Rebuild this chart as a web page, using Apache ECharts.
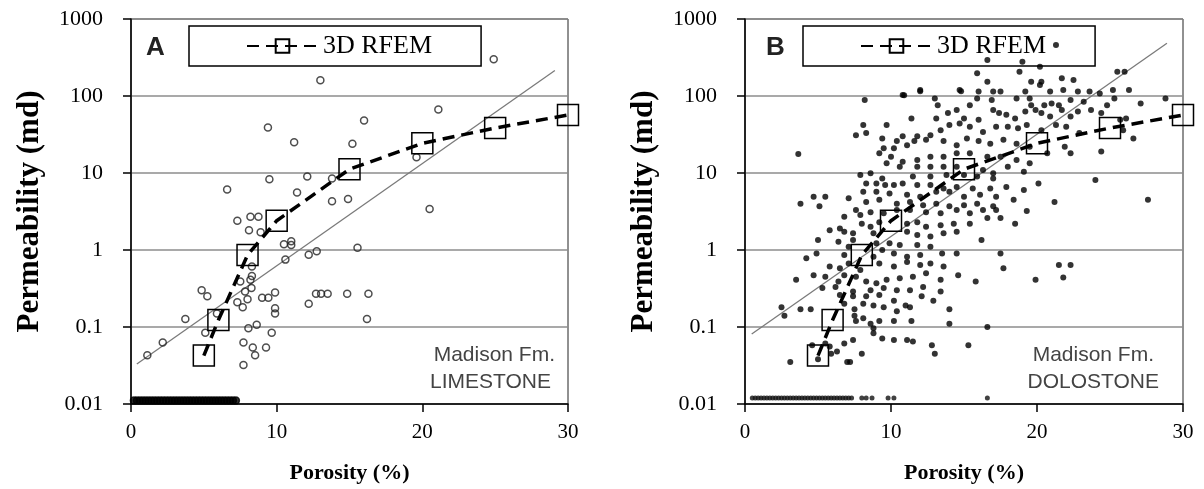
<!DOCTYPE html>
<html>
<head>
<meta charset="utf-8">
<script src="https://cdn.jsdelivr.net/npm/echarts@6/dist/echarts.min.js"></script>
<style>
  html, body { margin: 0; padding: 0; background: #fff; }
  #chart { width: 1204px; height: 489px; }
</style>
</head>
<body>
<div id="chart"></div>
<script>
// 3D RFEM model curve (same on both panels)
const rfemPorosity = [5, 6, 8, 10, 15, 20, 25, 30];
const rfemPerm = [0.0425, 0.123, 0.86, 2.4, 11.2, 24.3, 38.4, 56.6];

// regression lines [porosity, permeability] end points
const limestoneFit = [[0.4, 0.033], [29.1, 214]];
const dolostoneFit = [[0.46, 0.081], [28.9, 483]];

// measured samples, panel A
const limestonePoints = [
  [24.9, 300], [13.0, 160], [21.1, 67], [16.0, 48], [9.4, 39], [11.2, 25], [15.2, 24], [19.6, 16],
  [9.5, 8.3], [12.1, 9], [13.8, 8.5], [6.6, 6.1], [11.4, 5.6], [13.8, 4.3], [14.9, 4.6], [20.5, 3.4],
  [7.3, 2.4], [8.2, 2.7], [8.75, 2.7], [8.1, 1.8], [8.9, 1.7], [10.5, 1.19], [11.0, 1.3], [11.0, 1.16],
  [12.2, 0.87], [12.75, 0.96], [15.55, 1.07], [10.6, 0.75], [8.3, 0.61], [8.3, 0.46], [8.2, 0.41], [7.5, 0.39],
  [4.85, 0.30], [5.24, 0.25], [8.27, 0.32], [7.83, 0.29], [8.0, 0.23], [7.3, 0.21], [7.67, 0.18],
  [9.0, 0.24], [9.43, 0.24], [9.89, 0.28], [9.89, 0.175], [9.89, 0.15], [12.2, 0.2],
  [12.7, 0.27], [13.05, 0.27], [13.5, 0.27], [14.84, 0.27], [16.3, 0.27], [16.2, 0.127], [3.73, 0.127],
  [2.18, 0.063], [1.12, 0.043], [5.1, 0.084], [8.06, 0.096], [8.63, 0.107], [9.66, 0.084], [7.72, 0.063],
  [8.36, 0.054], [8.52, 0.043], [9.27, 0.054], [7.72, 0.032], [5.9, 0.15]
];
// samples sitting on the 0.01 floor, panel A
const limestoneFloorPorosity = [0.2, 0.4, 0.6, 0.8, 1.0, 1.2, 1.4, 1.6, 1.8, 2.0, 2.2, 2.4, 2.6, 2.8, 3.0,
  3.2, 3.4, 3.6, 3.8, 4.0, 4.2, 4.4, 4.6, 4.8, 5.0, 5.2, 5.4, 5.6, 5.8, 6.0, 6.2, 6.4, 6.6, 6.8, 7.0, 7.2];
const limestoneFloorPerm = 0.0111;

// measured samples, panel B
const dolostonePoints = [
  [21.3, 459], [16.6, 294], [19.0, 279], [20.2, 240], [15.9, 197], [16.6, 153], [18.8, 207], [19.6, 153],
  [20.3, 153], [21.7, 170], [22.5, 161], [25.5, 207], [26.0, 207], [10.9, 102], [12.0, 115], [14.8, 115],
  [12.0, 120], [10.8, 103], [14.7, 120], [16.0, 114], [17.0, 114], [17.5, 114], [18.6, 93], [19.2, 114],
  [20.2, 139], [20.9, 114], [21.8, 120], [22.8, 114], [23.6, 114], [24.3, 108], [25.2, 120], [26.3, 120], [28.8, 93],
  [8.2, 89], [13.0, 93], [13.2, 76], [15.4, 76], [15.9, 93], [16.9, 89], [19.5, 93], [19.6, 76], [20.5, 76],
  [21.0, 80], [21.5, 76], [22.3, 89], [23.2, 84], [24.8, 76], [25.3, 93], [27.1, 80],
  [11.4, 51], [13.1, 51], [13.9, 60], [14.5, 66], [15.0, 51], [16.0, 49], [17.0, 66], [17.4, 60], [17.9, 57],
  [18.5, 51], [19.2, 63], [19.9, 66], [20.3, 60], [20.9, 54], [21.7, 66], [22.3, 54], [22.8, 63], [23.7, 66],
  [24.4, 60], [25.7, 49], [26.1, 51],
  [8.1, 42], [7.6, 31], [8.3, 33], [9.7, 42], [10.8, 30], [11.8, 30], [12.7, 31], [13.4, 36], [14.0, 42],
  [14.7, 44], [15.4, 40], [16.3, 34], [17.2, 40], [18.0, 40], [18.7, 38], [19.3, 42], [20.3, 36], [21.3, 42],
  [22.0, 40], [22.9, 33], [25.9, 36], [26.6, 28],
  [9.4, 28], [10.4, 26], [11.1, 23], [11.6, 26], [12.4, 27], [13.6, 26], [14.5, 23], [15.2, 28], [16.0, 26],
  [16.8, 24], [17.7, 27], [18.6, 24], [19.5, 22], [21.9, 22], [24.4, 19], [9.5, 21], [10.2, 21],
  [3.65, 17.7], [9.2, 18], [10.0, 16.3], [10.8, 14], [11.8, 14.8], [12.7, 16.3], [13.6, 16.3], [14.5, 18],
  [15.4, 18], [16.6, 16.3], [17.5, 16.3], [18.6, 14.8], [19.5, 13.4], [20.7, 18], [22.3, 18],
  [9.7, 13.4], [10.6, 12.1], [11.8, 12.1], [12.7, 12.1], [13.6, 12.1], [14.5, 12.1], [16.3, 10.9], [17.0, 9.9],
  [18.0, 12.1], [19.1, 10.4], [8.6, 9.9], [9.4, 8.5], [11.5, 9.0], [12.7, 9.0], [13.8, 9.4], [15.0, 9.4],
  [15.9, 9.0], [17.0, 8.5], [24.0, 8.1],
  [7.9, 9.4], [8.3, 7.3], [9.0, 7.3], [9.6, 7.0], [10.2, 7.0], [10.8, 7.3], [11.8, 7.0], [12.7, 7.0], [13.6, 6.3],
  [14.5, 6.6], [15.6, 6.3], [16.8, 6.3], [17.9, 6.6], [19.1, 6.0], [20.1, 7.3], [8.1, 5.7], [9.0, 5.7], [9.9, 5.4],
  [11.1, 5.2], [12.0, 4.9], [13.1, 5.7], [14.0, 5.7], [15.0, 4.9], [16.1, 5.2], [17.2, 4.9],
  [3.8, 4.0], [4.7, 4.9], [5.5, 4.9], [5.1, 3.7], [7.1, 4.7], [8.3, 4.2], [9.2, 4.5], [10.4, 4.0], [11.3, 4.2],
  [12.2, 3.8], [13.1, 4.0], [14.0, 3.7], [15.0, 3.8], [15.9, 4.0], [17.0, 3.7], [18.4, 4.5], [21.2, 4.2], [27.6, 4.5],
  [7.6, 3.3], [8.6, 3.1], [9.5, 3.0], [10.4, 3.3], [11.3, 3.3], [12.4, 3.1], [13.4, 3.0], [14.5, 3.3], [15.4, 3.0],
  [16.3, 3.3], [17.2, 3.3], [19.3, 3.2],
  [6.8, 2.7], [7.9, 2.85], [8.0, 2.2], [8.6, 2.0], [9.2, 2.3], [11.1, 2.2], [11.8, 2.3], [12.4, 2.0], [13.4, 2.1],
  [14.3, 2.2], [15.4, 2.2], [16.6, 2.6], [17.5, 2.6], [18.5, 2.2], [5.8, 1.8], [6.5, 1.9], [6.8, 1.73], [7.4, 1.65],
  [8.8, 1.65], [11.1, 1.73], [11.8, 1.57], [12.7, 1.5], [13.6, 1.65], [14.5, 1.73], [16.2, 1.35],
  [5.0, 1.35], [6.4, 1.28], [7.1, 1.1], [7.4, 1.35], [9.0, 1.22], [9.9, 1.22], [10.6, 1.16], [11.8, 1.16], [12.7, 1.1],
  [13.5, 0.9], [9.4, 1.0], [10.2, 0.9], [11.1, 0.82], [12.0, 0.86], [14.5, 0.9], [17.5, 0.9],
  [4.2, 0.78], [4.9, 0.9], [6.8, 0.86], [7.1, 0.67], [8.8, 0.82], [9.2, 0.67], [10.2, 0.61], [11.1, 0.70], [12.0, 0.64],
  [12.7, 0.67], [13.6, 0.61], [21.5, 0.64], [22.3, 0.64], [5.8, 0.61], [6.5, 0.58], [7.9, 0.55],
  [3.5, 0.41], [4.7, 0.47], [5.5, 0.45], [6.4, 0.39], [6.8, 0.47], [7.6, 0.45], [8.3, 0.39], [9.0, 0.37], [9.7, 0.41],
  [10.6, 0.43], [11.5, 0.45], [12.4, 0.50], [13.4, 0.41], [14.6, 0.47], [15.8, 0.39], [17.7, 0.58], [19.9, 0.41],
  [21.8, 0.44], [5.3, 0.32], [6.2, 0.33], [7.4, 0.29], [8.6, 0.30], [9.5, 0.32], [10.4, 0.30], [11.3, 0.30],
  [12.2, 0.33], [13.4, 0.29],
  [6.5, 0.26], [7.4, 0.25], [8.3, 0.25], [9.2, 0.26], [10.2, 0.22], [11.0, 0.19], [12.1, 0.25], [12.9, 0.22],
  [14.0, 0.17], [2.5, 0.18], [2.7, 0.14], [3.8, 0.17], [4.5, 0.17], [6.8, 0.20], [7.5, 0.17], [8.1, 0.20],
  [8.8, 0.19], [9.5, 0.18], [10.4, 0.16], [11.3, 0.18],
  [7.5, 0.14], [8.1, 0.13], [8.6, 0.11], [9.2, 0.12], [10.2, 0.12], [11.4, 0.12], [14.0, 0.11], [16.6, 0.10],
  [7.6, 0.12], [8.8, 0.096],
  [7.4, 0.068], [8.8, 0.083], [9.4, 0.071], [10.2, 0.068], [11.1, 0.068], [11.5, 0.065], [12.8, 0.058], [6.8, 0.061],
  [5.8, 0.056], [6.3, 0.048], [8.0, 0.045], [13.0, 0.045], [15.3, 0.058], [3.1, 0.035], [5.0, 0.038], [4.6, 0.058],
  [5.5, 0.061], [7.0, 0.035], [7.2, 0.035], [5.9, 0.045]
];
// samples sitting on the 0.01 floor, panel B
const dolostoneFloorPorosity = [0.5, 0.7, 0.9, 1.1, 1.3, 1.5, 1.7, 1.9, 2.1, 2.3, 2.5, 2.7, 2.9, 3.1, 3.3, 3.5,
  3.7, 3.9, 4.1, 4.3, 4.5, 4.7, 4.9, 5.1, 5.3, 5.5, 5.7, 5.9, 6.1, 6.3, 6.5, 6.7, 6.9, 7.1, 7.3,
  8.0, 8.3, 8.7, 9.8, 10.2, 16.6];
const dolostoneFloorPerm = 0.012;

const SERIF = "'Liberation Serif', 'Times New Roman', serif";
const SANS = "'Liberation Sans', Arial, sans-serif";

const chart = echarts.init(document.getElementById("chart"));

const rfemData = rfemPorosity.map((p, i) => [p, rfemPerm[i]]);

const makeX = (gridIndex) => ({
  gridIndex,
  type: "value",
  min: 0,
  max: 30,
  interval: 10,
  axisLine: { lineStyle: { color: "#000", width: 1.5 } },
  axisTick: { length: 8, lineStyle: { color: "#000", width: 1.5 } },
  axisLabel: { fontFamily: SERIF, fontSize: 21, color: "#000", margin: 18 },
  splitLine: { show: false },
  name: "Porosity (%)",
  nameLocation: "middle",
  nameGap: 58,
  nameTextStyle: { fontFamily: SERIF, fontWeight: "bold", fontSize: 22, color: "#000" },
});

const makeY = (gridIndex) => ({
  gridIndex,
  type: "log",
  logBase: 10,
  min: 0.01,
  max: 1000,
  axisLine: { show: true, lineStyle: { color: "#000", width: 1.5 } },
  axisTick: { show: true, length: 8, lineStyle: { color: "#000", width: 1.5 } },
  axisLabel: {
    fontFamily: SERIF,
    fontSize: 22,
    color: "#000",
    margin: 28,
    formatter: (v) => String(+Number(v).toPrecision(3)),
  },
  splitLine: { show: true, lineStyle: { color: "#8c8c8c", width: 1.5 } },
  minorTick: { show: false },
  name: "Permeability (md)",
  nameLocation: "middle",
  nameRotate: 90,
  nameGap: 86,
  nameTextStyle: { fontFamily: SERIF, fontWeight: "bold", fontSize: 31, color: "#000" },
});

const rfemSeries = (idx) => ({
  name: "3D RFEM",
  type: "line",
  xAxisIndex: idx,
  yAxisIndex: idx,
  data: rfemData,
  symbol: "rect",
  symbolSize: 21,
  showAllSymbol: true,
  z: 10,
  lineStyle: { color: "#000", width: 3.5, type: [12, 7] },
  itemStyle: { color: "transparent", borderColor: "#000", borderWidth: 1.5 },
});

const fitSeries = (idx, data) => ({
  name: "fit",
  type: "line",
  xAxisIndex: idx,
  yAxisIndex: idx,
  data,
  symbol: "none",
  silent: true,
  z: 3,
  lineStyle: { color: "#7a7a7a", width: 1.3 },
});

const legendBox = (left) => ({
  left,
  top: 26,
  data: ["3D RFEM"],
  borderColor: "#000",
  borderWidth: 1.5,
  backgroundColor: "#fff",
  padding: [7, 49, 7, 57],
  itemWidth: 71,
  itemHeight: 17,
  textStyle: { fontFamily: SERIF, fontSize: 26, color: "#000" },
});

const label = (x, y, text, font, align, fill) => ({
  type: "text",
  x,
  y,
  z: 20,
  style: { text, font, fill, textAlign: align, textVerticalAlign: "top" },
});

chart.setOption({
  backgroundColor: "#fff",
  animation: false,
  grid: [
    { left: 131, right: 636, top: 19, bottom: 85, show: true, borderColor: "#222", borderWidth: 1 },
    { left: 745, right: 21, top: 19, bottom: 85, show: true, borderColor: "#222", borderWidth: 1 },
  ],
  xAxis: [makeX(0), makeX(1)],
  yAxis: [makeY(0), makeY(1)],
  legend: [legendBox(189), legendBox(803)],
  graphic: [
    label(146, 35, "A", "bold 26px " + SANS, "left", "#222"),
    label(555, 345, "Madison Fm.", "21px " + SANS, "right", "#444"),
    label(551, 372, "LIMESTONE", "21px " + SANS, "right", "#444"),
    label(766, 35, "B", "bold 26px " + SANS, "left", "#222"),
    label(1154, 345, "Madison Fm.", "21px " + SANS, "right", "#444"),
    label(1159, 372, "DOLOSTONE", "21px " + SANS, "right", "#444"),
  ],
  series: [
    {
      name: "limestone",
      type: "scatter",
      xAxisIndex: 0,
      yAxisIndex: 0,
      data: limestonePoints,
      symbolSize: 7,
      itemStyle: { color: "transparent", borderColor: "#222", borderWidth: 1.5 },
      z: 4,
    },
    {
      name: "limestone floor",
      type: "scatter",
      xAxisIndex: 0,
      yAxisIndex: 0,
      data: limestoneFloorPorosity.map((p) => [p, limestoneFloorPerm]),
      symbolSize: 7,
      itemStyle: { color: "#000", borderColor: "#000", borderWidth: 1.5 },
      z: 4,
    },
    fitSeries(0, limestoneFit),
    rfemSeries(0),
    {
      name: "dolostone",
      type: "scatter",
      xAxisIndex: 1,
      yAxisIndex: 1,
      data: dolostonePoints,
      symbolSize: 6,
      itemStyle: { color: "#000" },
      z: 4,
    },
    {
      name: "dolostone floor",
      type: "scatter",
      xAxisIndex: 1,
      yAxisIndex: 1,
      data: dolostoneFloorPorosity.map((p) => [p, dolostoneFloorPerm]),
      symbolSize: 5,
      itemStyle: { color: "#111" },
      z: 4,
    },
    fitSeries(1, dolostoneFit),
    rfemSeries(1),
  ],
});
</script>
</body>
</html>
